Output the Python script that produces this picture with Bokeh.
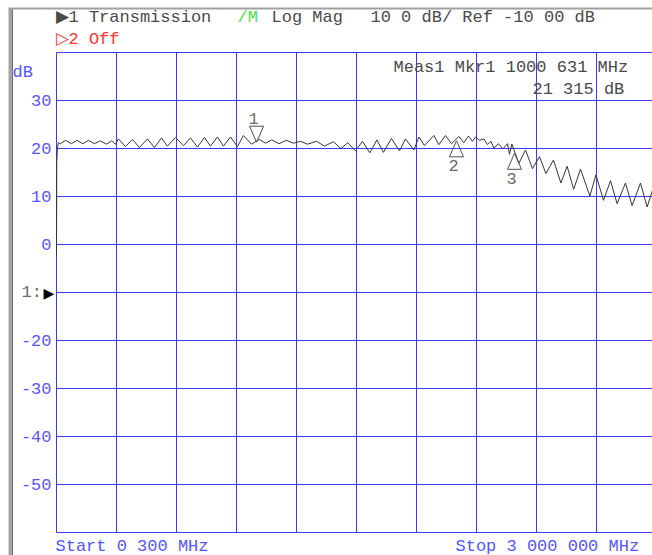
from bokeh.plotting import figure
from bokeh.models import Range1d
from bokeh.core.properties import value
from bokeh.embed import file_html
from bokeh.resources import INLINE

# ---------------- data ----------------
start_mhz = 0.3
stop_mhz = 3000.0
top_db = 40.0
bottom_db = -60.0
ref_db = -10.0

freq_mhz = [0.3, 1.5, 5, 10, 20, 45, 75, 102, 132, 160, 190, 220, 250, 277, 295,
            310, 345, 380, 415, 455, 490, 525, 555, 595, 635, 670, 705, 740, 770,
            805, 835, 870, 905, 935, 975, 1015, 1045, 1077, 1112, 1150, 1185, 1220,
            1255, 1300, 1340, 1385, 1422, 1457, 1495, 1530, 1567, 1602, 1635, 1675,
            1715, 1745, 1787, 1812, 1840, 1887, 1912, 1945, 1975, 2012, 2037, 2060,
            2080, 2095, 2115, 2137, 2155, 2172, 2187, 2210, 2232, 2255, 2265, 2277,
            2312, 2345, 2380, 2415, 2447, 2485, 2522, 2553, 2586, 2620, 2667, 2697,
            2735, 2770, 2803, 2845, 2878, 2920, 2953, 2980, 3000]
trace_db = [-2.3, 17.0, 20.3, 21.2, 21.0, 21.7, 21.0, 21.7, 21.0, 21.7, 21.0, 21.6,
            20.9, 21.6, 20.9, 22.0, 20.4, 21.9, 20.2, 22.0, 20.2, 22.2, 20.5, 22.3,
            20.6, 22.2, 20.3, 22.3, 20.5, 22.4, 20.5, 22.4, 20.4, 22.7, 20.9, 21.9,
            21.1, 21.8, 21.0, 21.7, 21.1, 21.5, 20.9, 21.5, 20.5, 21.4, 20.0, 21.2,
            19.5, 21.5, 19.1, 21.8, 19.2, 22.1, 19.5, 22.0, 19.7, 22.4, 20.6, 22.7,
            20.8, 22.7, 21.0, 22.5, 21.2, 22.6, 21.5, 22.4, 21.7, 22.0, 20.8, 21.5,
            20.1, 21.0, 19.9, 21.0, 18.8, 20.9, 16.9, 19.7, 15.8, 18.3, 14.8, 17.6,
            12.8, 16.3, 11.5, 15.7, 10.1, 14.5, 9.2, 13.3, 8.5, 12.8, 8.1, 12.8, 7.8,
            11.3, 12.5]

marker_ids = ["1", "2", "3"]
marker_freq = [1000.631, 2000.0, 2290.0]
marker_db = [21.315, 21.6, 19.0]
marker_up = [False, True, True]

y_tick_values = [30, 20, 10, 0, -20, -30, -40, -50]
y_tick_labels = ["30", "20", "10", "0", "-20", "-30", "-40", "-50"]
grid_db = [40, 30, 20, 10, 0, -10, -20, -30, -40, -50, -60]
n_x_div = 10

# ---------------- layout ----------------
W, H = 652, 555
FL, FT, FB = 56, 52, 532
DIV_PX = 60
mhz_per_px = (stop_mhz - start_mhz) / (n_x_div * DIV_PX)
db_per_px = (top_db - bottom_db) / (FB - FT)


def X(px):
    return start_mhz + (px - FL) * mhz_per_px


def Y(py):
    return top_db - (py - FT) * db_per_px


FONT = "Liberation Mono"
FS = "17px"
BLUE = "#3a3aff"
LBLUE = "#5555ff"
TXT = "#4a4a4a"
GRAY = "#6a6a6a"

p = figure(width=W, height=H, output_backend="svg", toolbar_location=None,
           x_range=Range1d(X(0), X(W)), y_range=Range1d(Y(H), Y(0)),
           min_border=0, title=None, x_axis_location=None, y_axis_location=None)
p.background_fill_color = "white"
p.border_fill_color = "white"
p.outline_line_color = None
p.grid.visible = False

# instrument window frame
p.quad(left=[X(8)], right=[X(12)], top=[Y(8)], bottom=[Y(H + 5)],
       fill_color="#a4a4a4", line_color=None)
p.segment(x0=[X(12)], y0=[Y(8)], x1=[X(12)], y1=[Y(H + 5)], line_color="#707070", line_width=1)
p.segment(x0=[X(8)], y0=[Y(8)], x1=[X(W + 5)], y1=[Y(8)], line_color="#a0a0a0", line_width=2)

# graticule
grid_x = [start_mhz + i * (stop_mhz - start_mhz) / n_x_div for i in range(n_x_div + 1)]
p.segment(x0=grid_x, y0=[bottom_db] * len(grid_x), x1=grid_x, y1=[top_db] * len(grid_x),
          line_color=BLUE, line_width=1)
p.segment(x0=[start_mhz] * len(grid_db), y0=grid_db, x1=[stop_mhz] * len(grid_db), y1=grid_db,
          line_color=BLUE, line_width=1)

# y tick labels
p.text(x=[X(51)] * len(y_tick_values), y=y_tick_values, text=y_tick_labels,
       text_font=value(FONT), text_font_size=FS, text_color=LBLUE,
       text_align="right", text_baseline="middle")

# trace
p.line(freq_mhz, trace_db, line_color="#353535", line_width=1)

# markers
tri_w, tri_h = 7 * mhz_per_px, 16 * db_per_px
xs, ys, lx, ly = [], [], [], []
for f, d, up in zip(marker_freq, marker_db, marker_up):
    s = -1 if up else 1
    xs.append([f, f - tri_w, f + tri_w])
    ys.append([d, d + s * tri_h, d + s * tri_h])
    lx.append(f - 3 * mhz_per_px)
    ly.append(d + s * (tri_h + (8 if s > 0 else 9) * db_per_px))
p.patches(xs, ys, fill_color=None, line_color="#505050", line_width=1)
p.text(lx, ly, text=marker_ids, text_font=value(FONT), text_font_size=FS,
       text_color=GRAY, text_align="center", text_baseline="middle")


def lab(px, py, text, color=TXT, align="left", size=FS):
    p.text(x=[X(px)], y=[Y(py)], text=[text], text_font=value(FONT),
           text_font_size=size, text_color=color, text_align=align,
           text_baseline="middle")


lab(55, 17, "\u25B61 Transmission")
lab(237, 17, "/M", color="#44e844")
lab(271, 17, "Log Mag")
lab(370, 17, "10 0 dB/ Ref -10 00 dB")
lab(55, 39, "\u25B72 Off", color="#ff3434")
lab(393, 67, "Meas1 Mkr1 1000 631 MHz")
lab(532, 89, "21 315 dB")
lab(12, 72, "dB", color=LBLUE)
lab(55, 546, "Start 0 300 MHz", color=LBLUE)
lab(455, 546, "Stop 3 000 000 MHz", color=LBLUE)

# reference level indicator
p.text(x=[X(21)], y=[ref_db], text=["1:"], text_font=value(FONT), text_font_size=FS,
       text_color=GRAY, text_align="left", text_baseline="middle")
p.text(x=[X(43)], y=[ref_db], text=["\u25B6"], text_font=value("DejaVu Sans"),
       text_font_size="14px", text_color="black", text_align="left", text_baseline="middle")

open("out.html", "w").write(file_html(p, INLINE))
